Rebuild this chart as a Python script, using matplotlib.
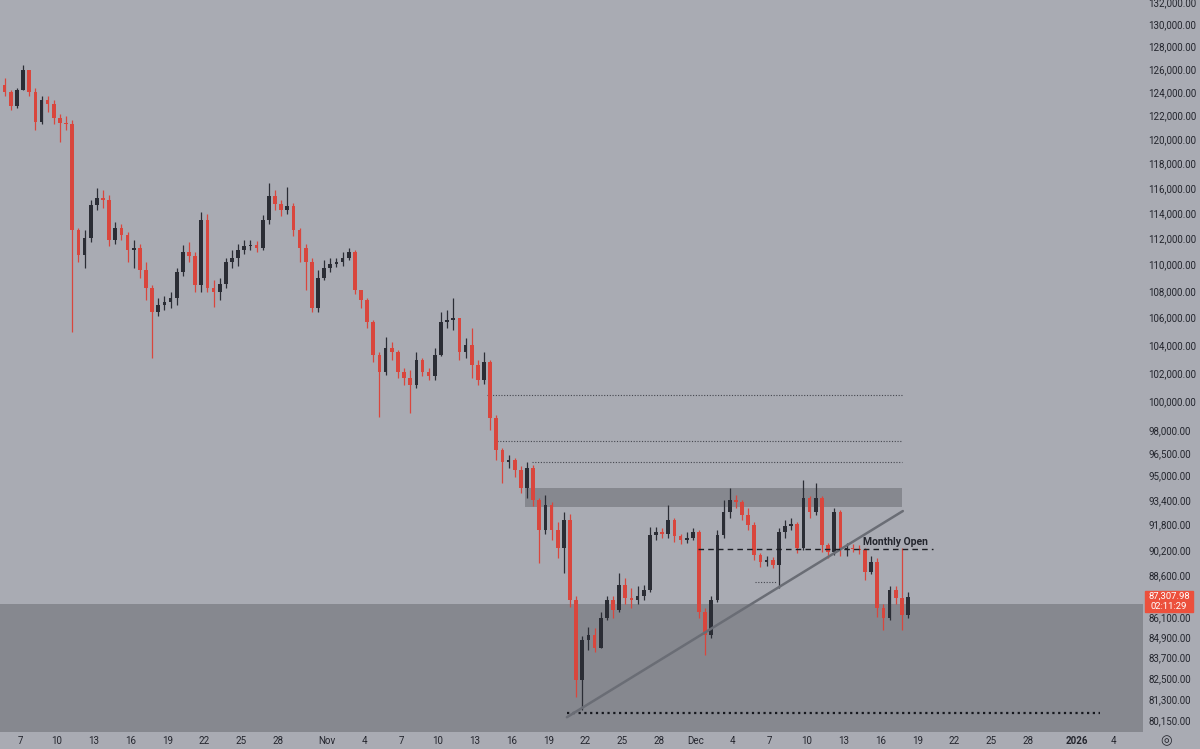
import matplotlib
matplotlib.use("Agg")
import matplotlib.pyplot as plt
import matplotlib.dates as mdates
from matplotlib.ticker import FixedLocator, NullLocator, FuncFormatter
from matplotlib.patches import Rectangle
from datetime import datetime, timedelta

# 12h candles, starting 2025-10-05 12:00
first_open = 124600
closes = [
    124000, 122800, 124170, 125900, 124000, 121440, 123310, 122970, 121780, 121350,
    121270, 112660, 110720, 112030, 114630, 115190, 115030, 111880, 112810, 112270,
    111100, 111260, 109570, 108210, 106420, 106940, 107160, 107460, 109420, 110950,
    110640, 108430, 113440, 108210, 107910, 108510, 110180, 110490, 111100, 111410,
    111490, 111260, 113440, 115350, 114710, 114230, 114550, 112660, 111260, 110180,
    106710, 108960, 109720, 110030, 110180, 110490, 110950, 108060, 107310, 105680,
    103280, 102070, 103790, 103500, 102070, 101650, 101150, 102920, 102070, 101790,
    103280, 105680, 105830, 105970, 103500, 104000, 102570, 101500, 102780, 98860,
    96680, 95880, 96010, 95350, 94160, 95480, 93380, 91460, 93060, 91460,
    90320, 92090, 87110, 82400, 84720, 85020, 84250, 86030, 87110, 86510,
    88030, 87230, 87110, 87350, 87720, 91140, 91330, 91200, 92090, 91080,
    90820, 90950, 91330, 86390, 85020, 87110, 91140, 92610, 93380, 93250,
    92410, 91770, 89880, 89440, 89570, 89260, 91330, 91710, 91840, 90320,
    93510, 92610, 93510, 90510, 90070, 92610, 90200, 90320, 90260, 90200,
    88830, 89440, 86630, 86030, 87720, 87230, 86210, 87307.98,
]
highs = [
    125210, 124170, 124340, 126350, 125900, 124340, 123650, 123650, 123310, 122120,
    121950, 121610, 112810, 112660, 115030, 115990, 115830, 115430, 113290, 113130,
    112500, 111880, 111570, 110180, 108430, 107460, 107610, 107910, 109720, 111490,
    111720, 110950, 114080, 113920, 108810, 108960, 110490, 111100, 111570, 111880,
    111880, 111800, 113840, 116400, 115830, 115030, 116070, 114790, 112810, 111570,
    110490, 109570, 110330, 110490, 110490, 110950, 111260, 111100, 108060, 107460,
    105830, 103500, 104580, 104220, 103640, 102360, 102210, 103500, 103070, 102360,
    103790, 106420, 106570, 107460, 105970, 104510, 105240, 102920, 103500, 102920,
    99060, 96820, 96350, 96150, 95610, 95880, 95680, 93510, 93710, 93250,
    91970, 92610, 92480, 87350, 84960, 85490, 85430, 86390, 87350, 87350,
    88760, 88450, 87840, 87960, 88030, 91650, 91650, 91580, 93060, 92220,
    91200, 91330, 91580, 91460, 86630, 87350, 91460, 93380, 94160, 93710,
    93380, 92860, 91970, 90010, 89820, 89760, 91580, 92090, 92220, 91970,
    94690, 93640, 94490, 93640, 90630, 92860, 92740, 90630, 90570, 90510,
    90320, 89820, 89690, 86870, 87960, 87960, 90320, 87600,
]
lows = [
    123650, 122450, 122630, 124170, 123650, 120770, 121270, 122290, 121270, 119760,
    120770, 104950, 110180, 109720, 111720, 114230, 114390, 111410, 111570, 111880,
    110180, 109720, 108960, 107310, 103070, 106120, 106570, 106710, 106940, 109110,
    110180, 107910, 107910, 107910, 106790, 107310, 108210, 109720, 109880, 110790,
    111100, 110950, 111100, 113130, 114230, 113760, 113920, 112190, 110180, 108060,
    106420, 106420, 108810, 109420, 109800, 109880, 110330, 107760, 106710, 105240,
    102780, 98930, 101860, 102920, 101650, 101150, 99200, 100940, 101790, 101500,
    101500, 103210, 105240, 105090, 102920, 103070, 101650, 101150, 101220, 98040,
    96010, 94490, 95480, 94890, 93840, 93510, 92990, 89380, 91200, 90820,
    89690, 88760, 86690, 81430, 80700, 84140, 84020, 84250, 85910, 86030,
    86390, 86870, 86630, 86870, 87110, 87600, 90820, 90950, 90950, 90700,
    90570, 90630, 90820, 86030, 83850, 84840, 86990, 90950, 92220, 92860,
    92090, 91460, 89570, 89130, 89200, 89070, 87840, 90950, 91460, 90000,
    90200, 92220, 92410, 90070, 89690, 89880, 89820, 89820, 90070, 89940,
    88330, 88700, 86090, 85310, 85910, 86870, 85310, 86030,
]

# drawings on the chart
monthly_open = 90250
demand_top = 86900
supply_zone = (92950, 94150)
dotted_levels = [100420, 97320, 95890]
dotted_starts = [datetime(2025, 11, 14, 0), datetime(2025, 11, 14, 19), datetime(2025, 11, 17, 16)]
range_low = 80530
trend_prices = [80300, 92670]

y_ticks = [132000, 130000, 128000, 126000, 124000, 122000, 120000, 118000, 116000,
           114000, 112000, 110000, 108000, 106000, 104000, 102000, 100000, 98000,
           96500, 95000, 93400, 91800, 90200, 88600, 86100, 84900, 83700, 82500,
           81300, 80150]

bg = '#a9abb3'
zone = '#86888f'
up_col = '#2b2d35'
down_col = '#d9463d'
text_col = '#23252d'

plt.rcParams['font.family'] = ['Roboto', 'DejaVu Sans']

W, H = 1200, 749
fig = plt.figure(figsize=(W / 100, H / 100), dpi=100, facecolor=bg)
ax = fig.add_axes([0, 17 / H, 1143 / W, 732 / H], facecolor=bg)

day0 = mdates.date2num(datetime(2025, 10, 7))
px_day = 12.29


def px_to_date(px):
    return day0 + (px - 20) / px_day


start = datetime(2025, 10, 5, 12)
times = [start + timedelta(hours=12 * i) for i in range(len(closes))]
xs = [mdates.date2num(t) + 0.25 for t in times]
opens = [first_open] + closes[:-1]

# zones
ax.axhspan(70000, demand_top, color=zone, lw=0, zorder=0)
x_end = mdates.date2num(datetime(2025, 12, 17, 18))
ax.fill_between([mdates.date2num(datetime(2025, 11, 17, 2)), x_end],
                supply_zone[0], supply_zone[1], color=zone, lw=0, zorder=0)

for lvl, s in zip(dotted_levels, dotted_starts):
    ax.plot([mdates.date2num(s), x_end], [lvl, lvl], color='#45474f',
            lw=0.8, ls=(0, (1, 1.5)), zorder=1)

# small dotted level
ax.plot([mdates.date2num(datetime(2025, 12, 5, 19)), mdates.date2num(datetime(2025, 12, 7, 14))],
        [88200, 88200], color='#45474f', lw=0.8, ls=(0, (1, 1.5)), zorder=1)

# candles
cols = [up_col if c >= o else down_col for o, c in zip(opens, closes)]
ax.vlines(xs, lows, highs, colors=cols, lw=0.9, zorder=3)
bottoms = [min(o, c) for o, c in zip(opens, closes)]
heights = [max(abs(c - o), 60) for o, c in zip(opens, closes)]
ax.bar(xs, heights, bottom=bottoms, width=0.3, color=cols, lw=0, zorder=3)

# range low and trend line
t_a = mdates.date2num(datetime(2025, 11, 20, 12))
ax.plot([t_a, mdates.date2num(datetime(2026, 1, 2, 21))], [range_low, range_low],
        color='#15171d', lw=1.6, ls=(0, (1, 1.6)), zorder=4)
ax.plot([t_a, mdates.date2num(datetime(2025, 12, 17, 20))], trend_prices,
        color='#6a6d75', lw=1.8, zorder=4, solid_capstyle='round')

# monthly open
mo_x0 = mdates.date2num(datetime(2025, 12, 1, 4))
mo_x1 = mdates.date2num(datetime(2025, 12, 20, 7))
ax.plot([mo_x0, mo_x1], [monthly_open, monthly_open], color='#1c1e24',
        lw=1.0, ls=(0, (4, 3)), zorder=4)
ax.annotate('Monthly Open', xy=(mdates.date2num(datetime(2025, 12, 14, 14)), monthly_open),
            xytext=(0, 3), textcoords='offset points', ha='left', va='baseline',
            fontsize=7.5, fontweight='bold', color=text_col, zorder=5)

# axes setup
ax.set_yscale('log')
ax.set_ylim(79480, 132180)
ax.set_xlim(px_to_date(0), px_to_date(1143))
ax.yaxis.tick_right()
ax.yaxis.set_major_locator(FixedLocator(y_ticks))
ax.yaxis.set_minor_locator(NullLocator())
ax.yaxis.set_major_formatter(FuncFormatter(lambda v, p: f'{v:,.2f}'))
ax.tick_params(axis='y', length=0, pad=4, labelsize=7, labelcolor=text_col)

tick_dates, tick_labels = [], []
for d in range(7, 29, 3):
    tick_dates.append(datetime(2025, 10, d)); tick_labels.append(str(d))
tick_dates.append(datetime(2025, 11, 1)); tick_labels.append('Nov')
for d in range(4, 29, 3):
    tick_dates.append(datetime(2025, 11, d)); tick_labels.append(str(d))
tick_dates.append(datetime(2025, 12, 1)); tick_labels.append('Dec')
for d in range(4, 29, 3):
    tick_dates.append(datetime(2025, 12, d)); tick_labels.append(str(d))
tick_dates.append(datetime(2026, 1, 1)); tick_labels.append('2026')
tick_dates.append(datetime(2026, 1, 4)); tick_labels.append('4')
ax.set_xticks(mdates.date2num(tick_dates))
ax.set_xticklabels(tick_labels)
ax.tick_params(axis='x', length=0, pad=3, labelsize=7, labelcolor=text_col)
for lbl in ax.get_xticklabels():
    if lbl.get_text() == '2026':
        lbl.set_fontweight('bold')
ax.xaxis.set_minor_locator(NullLocator())

for s in ax.spines.values():
    s.set_visible(False)

# last price tag
fig.patches.append(Rectangle((1145 / W, 1 - 612 / H), 48 / W, 21 / H,
                             transform=fig.transFigure, color='#ec503c', zorder=5))
fig.text(1169 / W, 1 - 596.5 / H, f'{closes[-1]:,.2f}', ha='center', va='center',
         fontsize=6.8, color='white', zorder=6)
fig.text(1169 / W, 1 - 606.5 / H, '02:11:29', ha='center', va='center',
         fontsize=6.8, color='white', zorder=6)

fig.text(1166 / W, 1 - 741 / H, '◎', ha='center', va='center', fontsize=9.5, color=text_col)

fig.savefig('out.png', dpi=100, facecolor=bg)
